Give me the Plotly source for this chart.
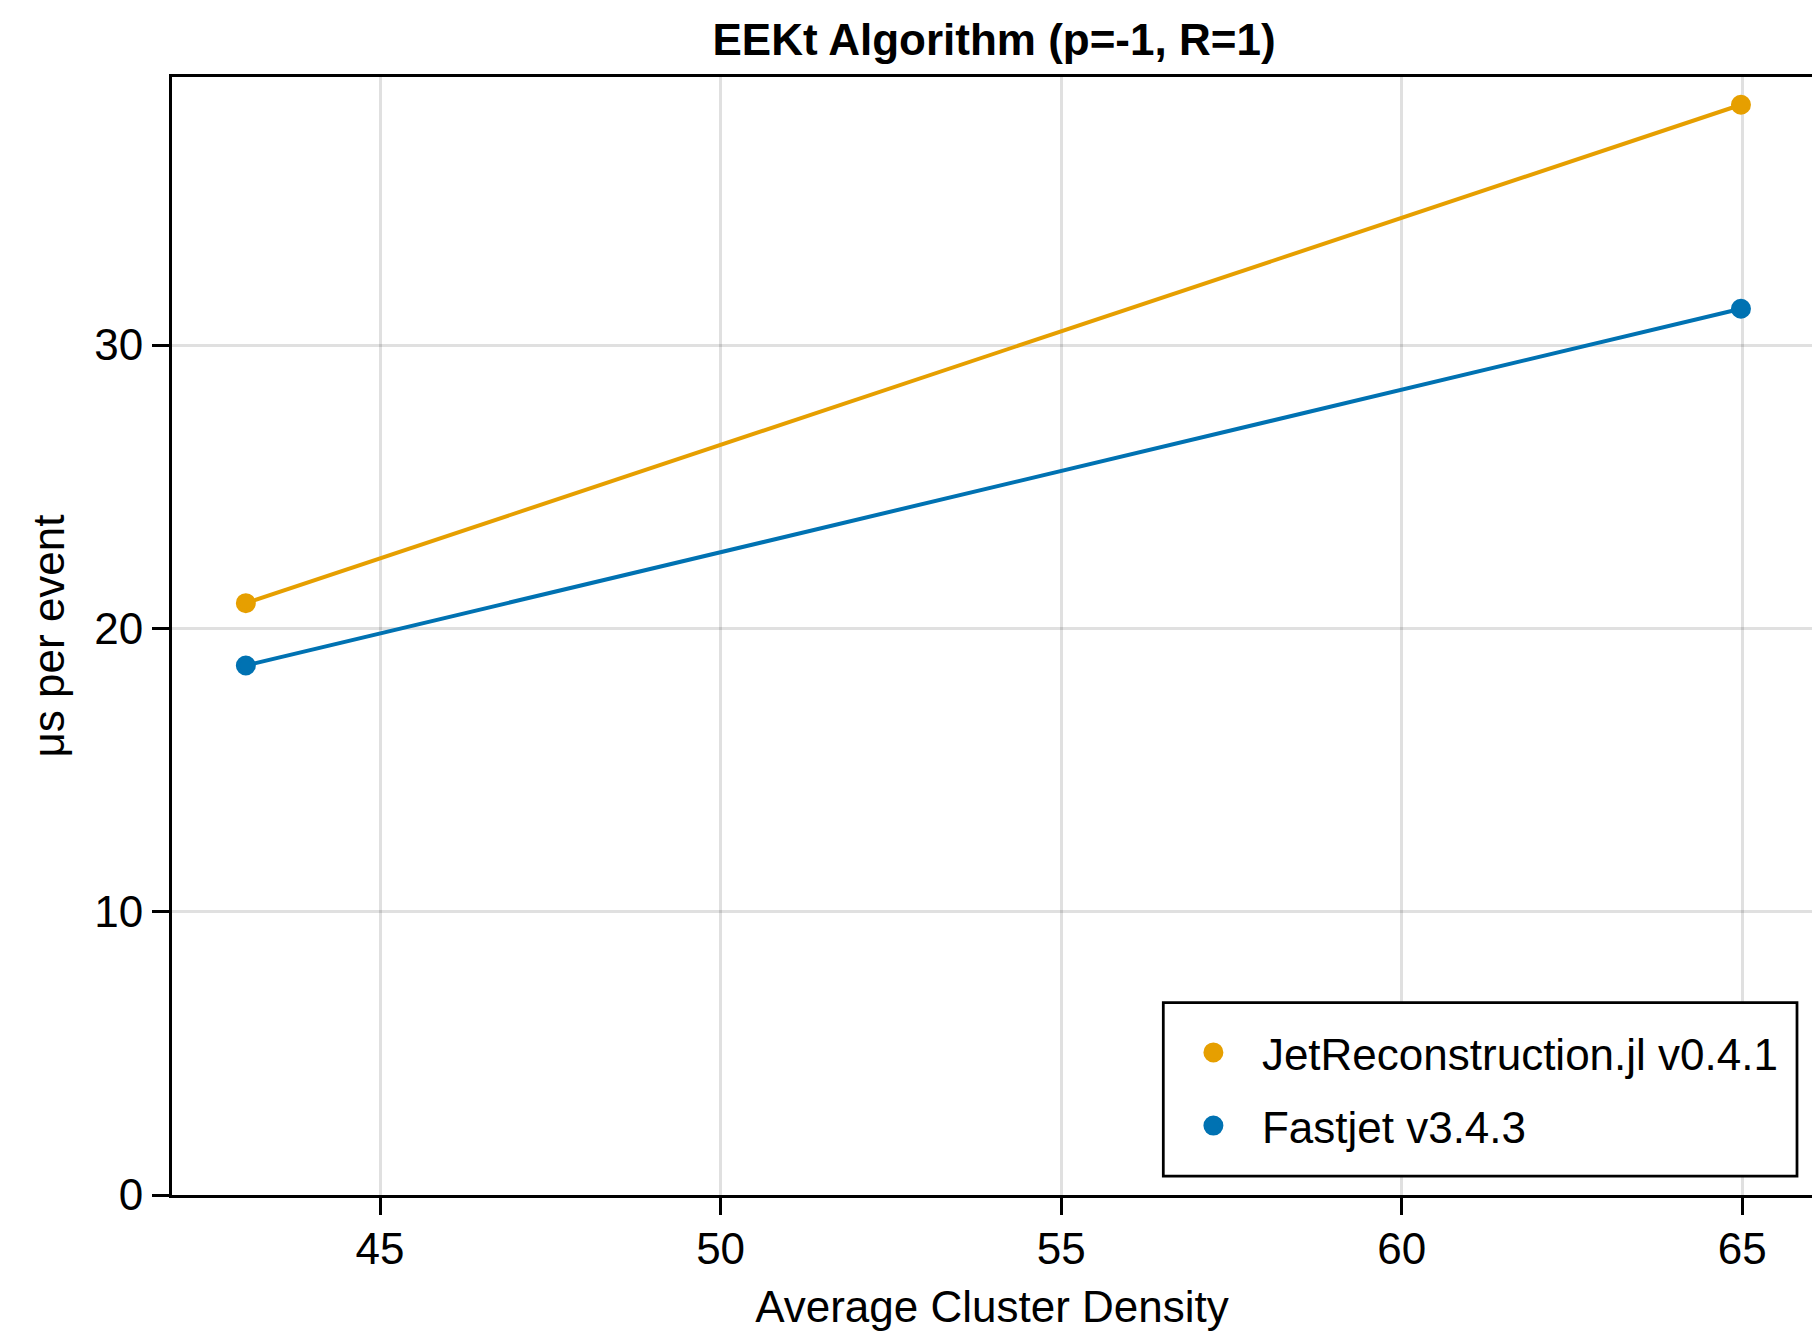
import plotly.graph_objects as go

density = [43.03, 64.98]
jet_recon = [20.89, 38.48]
fastjet = [18.69, 31.28]

series_names = ["JetReconstruction.jl v0.4.1", "Fastjet v3.4.3"]
series_values = [jet_recon, fastjet]
series_colors = ["#E69F00", "#0072B2"]

x_ticks = [45, 50, 55, 60, 65]
y_ticks = [0, 10, 20, 30]

FONT = "Liberation Sans, Arial, sans-serif"

W, H = 1812, 1331
ml, mr, mt, mb = 172, 0, 77, 136
PW, PH = W - ml - mr, H - mt - mb


def px_x(p):
    return (p - ml) / PW


def px_y(p):
    return (H - mb - p) / PH


fig = go.Figure()
# connecting lines (no legend)
for name, vals, col in zip(series_names, series_values, series_colors):
    fig.add_trace(go.Scatter(x=density, y=vals, mode="lines",
                             line=dict(color=col, width=4),
                             showlegend=False, name=name, legendgroup=name))
# markers with legend entries
for name, vals, col in zip(series_names, series_values, series_colors):
    fig.add_trace(go.Scatter(x=density, y=vals, mode="markers",
                             marker=dict(color=col, size=16,
                                         line=dict(color=col, width=4)),
                             showlegend=True, name=name, legendgroup=name))

fig.update_layout(
    width=W, height=H,
    margin=dict(l=ml, r=mr, t=mt, b=mb, pad=0),
    paper_bgcolor="white", plot_bgcolor="white",
    font=dict(family=FONT, size=44, color="black"),
    title=dict(text="EEKt Algorithm (p=-1, R=1)",
               font=dict(family=FONT, size=44, color="black", weight="bold"),
               x=(ml + W + 4) / 2 / W, xanchor="center",
               y=1 - 40 / H, yanchor="middle", yref="container"),
    xaxis=dict(range=[41.946, 66.023], tickvals=x_ticks,
               showgrid=True, gridcolor="rgba(0,0,0,0.12)", gridwidth=2.75,
               zeroline=False,
               showline=True, linecolor="black", linewidth=3, mirror=True,
               ticks="outside", ticklen=17, tickwidth=3, tickcolor="black",
               ticklabelstandoff=-4,
               title=dict(text="Average Cluster Density", standoff=22,
                          font=dict(size=44)),
               tickfont=dict(size=44)),
    yaxis=dict(range=[0, 39.46], tickvals=y_ticks,
               showgrid=True, gridcolor="rgba(0,0,0,0.12)", gridwidth=2.75,
               zeroline=False,
               showline=True, linecolor="black", linewidth=3, mirror=False,
               ticks="outside", ticklen=17, tickwidth=3, tickcolor="black",
               title=dict(text="μs per event", standoff=16,
                          font=dict(size=44)),
               tickfont=dict(size=44)),
    legend=dict(x=px_x(1164.9), xanchor="left",
                y=px_y(1017.3), yanchor="top",
                bgcolor="rgba(0,0,0,0)", borderwidth=0,
                itemwidth=87, tracegroupgap=13,
                font=dict(family=FONT, size=44, color="black"),
                traceorder="grouped"),
    shapes=[dict(type="rect", xref="paper", yref="paper",
                 x0=px_x(1163.3), x1=px_x(1797),
                 y0=px_y(1176), y1=px_y(1002.7),
                 line=dict(color="black", width=2.75),
                 fillcolor="white", layer="above")],
)

fig.write_html("out.html")
